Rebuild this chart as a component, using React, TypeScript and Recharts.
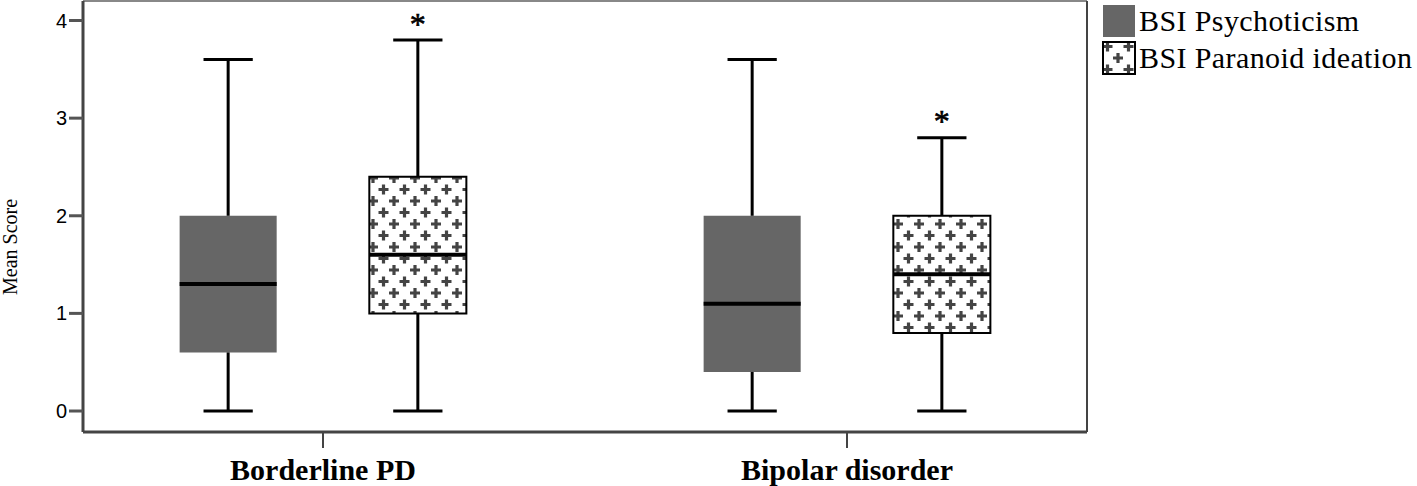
import {
  ComposedChart,
  XAxis,
  YAxis,
  ReferenceArea,
  ReferenceLine,
  Scatter,
  Legend,
} from "recharts";

const groups = ["Borderline PD", "Bipolar disorder"];
const groupPos = [1, 2];
const seriesNames = ["BSI Psychoticism", "BSI Paranoid ideation"];
const yTicks = [0, 1, 2, 3, 4];

// BSI Psychoticism
const psyMin = [0, 0];
const psyQ1 = [0.6, 0.4];
const psyMed = [1.3, 1.1];
const psyQ3 = [2.0, 2.0];
const psyMax = [3.6, 3.6];

// BSI Paranoid ideation
const parMin = [0, 0];
const parQ1 = [1.0, 0.8];
const parMed = [1.6, 1.4];
const parQ3 = [2.4, 2.0];
const parMax = [3.8, 2.8];
const parExtreme = [4.0, 3.0];

const X_DOMAIN: [number, number] = [0.542, 2.458];
const Y_DOMAIN: [number, number] = [-0.215, 4.2];
const OFFSET = 0.181;
const HALF_BOX = 0.0926;
const HALF_CAP = 0.047;

const PSY_FILL = "#666666";
const PAR_FILL = "url(#plusPattern)";

type BoxSeries = {
  offset: number;
  min: number[];
  q1: number[];
  med: number[];
  q3: number[];
  max: number[];
  fill: string;
  stroke?: string;
};

const boxSeries: BoxSeries[] = [
  { offset: -OFFSET, min: psyMin, q1: psyQ1, med: psyMed, q3: psyQ3, max: psyMax, fill: PSY_FILL },
  { offset: OFFSET, min: parMin, q1: parQ1, med: parMed, q3: parQ3, max: parMax, fill: PAR_FILL, stroke: "#000" },
];

const extremeData = groupPos.map((g, i) => ({ x: g + OFFSET, y: parExtreme[i] }));

function AsteriskShape(props: { cx?: number; cy?: number }) {
  const { cx = 0, cy = 0 } = props;
  return (
    <text
      x={cx}
      y={cy + 14}
      textAnchor="middle"
      fontFamily="'Liberation Serif', serif"
      fontSize={32}
      stroke="#000"
      strokeWidth={0.6}
      fill="#000"
    >
      *
    </text>
  );
}

function XTick(props: { x?: number; y?: number; payload?: { value: number } }) {
  const { x = 0, y = 0, payload } = props;
  const idx = groupPos.indexOf(payload?.value ?? -1);
  return (
    <text
      x={x}
      y={y + 30}
      textAnchor="middle"
      fontFamily="'Liberation Serif', serif"
      fontWeight="bold"
      fontSize={30}
      fill="#000"
    >
      {idx >= 0 ? groups[idx] : ""}
    </text>
  );
}

function YLabel() {
  return (
    <text
      x={17}
      y={247}
      transform="rotate(-90 17 247)"
      textAnchor="middle"
      fontFamily="'Liberation Serif', serif"
      fontSize={20}
      fill="#000"
    >
      Mean Score
    </text>
  );
}

function LegendBox() {
  return (
    <div style={{ fontFamily: "'Liberation Serif', serif", fontSize: 30, color: "#000" }}>
      {seriesNames.map((name, i) => (
        <div key={name} style={{ display: "flex", alignItems: "center", height: 37 }}>
          <svg width={34} height={34} style={{ marginRight: 3 }}>
            <rect
              x={1}
              y={1}
              width={32}
              height={32}
              fill={i === 0 ? PSY_FILL : PAR_FILL}
              stroke={i === 0 ? "none" : "#000"}
              strokeWidth={2}
            />
          </svg>
          <span style={{ letterSpacing: 0.4, whiteSpace: "nowrap", lineHeight: "34px" }}>{name}</span>
        </div>
      ))}
    </div>
  );
}

export default function App() {
  return (
    <div style={{ position: "absolute", left: 0, top: 0, width: 1417, height: 486, background: "#fff" }}>
      <svg width={0} height={0} style={{ position: "absolute" }}>
        <defs>
          <pattern id="plusPattern" patternUnits="userSpaceOnUse" width={21} height={23}>
            <rect width={21} height={23} fill="#fff" />
            <path d="M5.5 0.5V10.5M0.5 5.5H10.5" stroke="#444" strokeWidth={3.2} />
            <path d="M16 12V22M11 17H21" stroke="#444" strokeWidth={3.2} />
          </pattern>
        </defs>
      </svg>
      <ComposedChart
        width={1417}
        height={486}
        margin={{ top: 1, right: 330, bottom: 0, left: 0 }}
      >
        <XAxis
          type="number"
          dataKey="x"
          domain={X_DOMAIN}
          ticks={groupPos}
          interval={0}
          allowDataOverflow
          height={54}
          tickSize={16}
          tick={<XTick />}
          axisLine={{ stroke: "#444", strokeWidth: 3 }}
          tickLine={{ stroke: "#444", strokeWidth: 2 }}
        />
        <YAxis
          type="number"
          dataKey="y"
          domain={Y_DOMAIN}
          ticks={yTicks}
          interval={0}
          allowDataOverflow
          width={83}
          tickSize={14}
          tick={{ fill: "#000", fontSize: 20, fontFamily: "'Liberation Sans', Arial, sans-serif" }}
          axisLine={{ stroke: "#444", strokeWidth: 3 }}
          tickLine={{ stroke: "#555", strokeWidth: 3 }}
          label={<YLabel />}
        />
        <ReferenceLine y={Y_DOMAIN[1]} stroke="#888" strokeWidth={2} />
        <ReferenceLine x={X_DOMAIN[1]} stroke="#444" strokeWidth={2} />
        <Legend
          layout="horizontal"
          align="center"
          verticalAlign="middle"
          content={<LegendBox />}
          wrapperStyle={{ position: "absolute", top: 2, left: 1102, width: 315 }}
        />
        {boxSeries.map((s, si) =>
          groupPos.map((g, gi) => {
            const c = g + s.offset;
            return [
              <ReferenceLine
                key={`wu-${si}-${gi}`}
                segment={[{ x: c, y: s.q3[gi] }, { x: c, y: s.max[gi] }]}
                stroke="#000"
                strokeWidth={3}
              />,
              <ReferenceLine
                key={`wl-${si}-${gi}`}
                segment={[{ x: c, y: s.min[gi] }, { x: c, y: s.q1[gi] }]}
                stroke="#000"
                strokeWidth={3}
              />,
              <ReferenceLine
                key={`cu-${si}-${gi}`}
                segment={[{ x: c - HALF_CAP, y: s.max[gi] }, { x: c + HALF_CAP, y: s.max[gi] }]}
                stroke="#000"
                strokeWidth={3}
              />,
              <ReferenceLine
                key={`cl-${si}-${gi}`}
                segment={[{ x: c - HALF_CAP, y: s.min[gi] }, { x: c + HALF_CAP, y: s.min[gi] }]}
                stroke="#000"
                strokeWidth={3}
              />,
              <ReferenceArea
                key={`box-${si}-${gi}`}
                x1={c - HALF_BOX}
                x2={c + HALF_BOX}
                y1={s.q1[gi]}
                y2={s.q3[gi]}
                fill={s.fill}
                fillOpacity={1}
                stroke={s.stroke ?? "none"}
                strokeWidth={2}
              />,
              <ReferenceLine
                key={`med-${si}-${gi}`}
                segment={[{ x: c - HALF_BOX, y: s.med[gi] }, { x: c + HALF_BOX, y: s.med[gi] }]}
                stroke="#000"
                strokeWidth={4}
              />,
            ];
          })
        )}
        <Scatter
          data={extremeData}
          dataKey="y"
          shape={<AsteriskShape />}
          isAnimationActive={false}
          legendType="none"
        />
      </ComposedChart>
    </div>
  );
}
